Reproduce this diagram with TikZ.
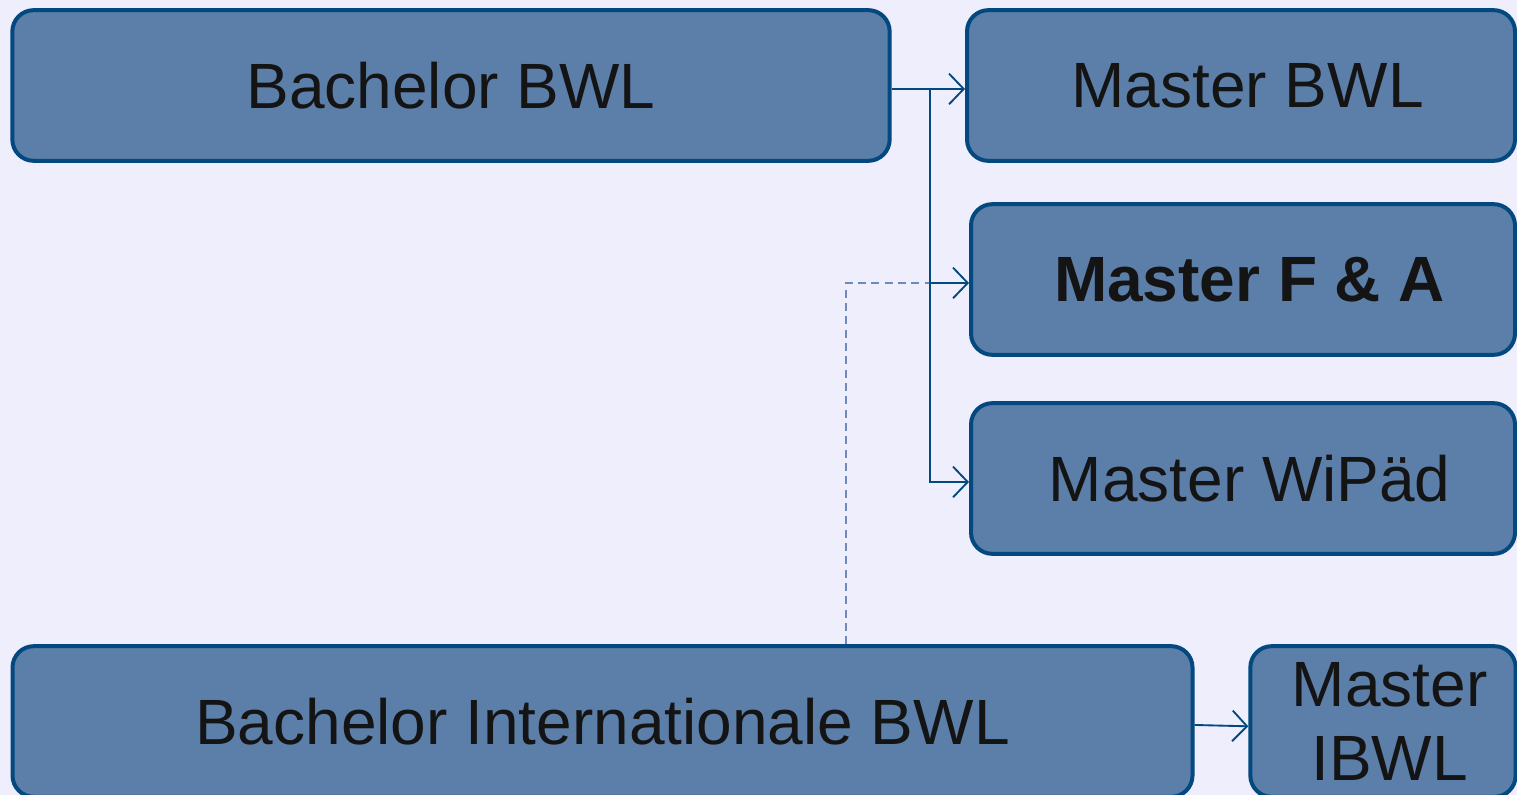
\documentclass[tikz,border=0pt]{standalone}
\usepackage{fontspec}
\setmainfont{Liberation Sans}
\usetikzlibrary{arrows.meta}
\definecolor{bgc}{RGB}{238,238,252}
\definecolor{boxfill}{RGB}{92,127,170}
\definecolor{boxline}{RGB}{4,72,128}
\definecolor{dashc}{RGB}{108,139,186}
\tikzset{
  box/.style={draw=boxline, fill=boxfill, line width=3pt, rounded corners=16pt,
    inner sep=0pt, minimum height=113pt, text=black!92,
    font=\fontsize{48}{55}\selectfont, align=center},
  conn/.style={draw=boxline, line width=1.4pt},
  arr/.style={conn, -{Straight Barb[length=11pt, width=23pt, line width=1.4pt]}},
  dsh/.style={draw=dashc, line width=1.4pt, dash pattern=on 6pt off 4pt}
}
\newcommand{\rsh}{\hspace*{10pt}}
\begin{document}
\begin{tikzpicture}[x=0.75pt, y=-0.75pt]
\fill[bgc] (0,0) rectangle (1517,795);
\useasboundingbox (0,0) rectangle (1517,795);
\node[box, minimum width=658pt] (bbwl) at (451,85.5) {Bachelor BWL};
\node[box, minimum width=411pt] (mbwl) at (1241,85.5) {\rsh Master BWL};
\node[box, minimum width=408pt] (mfa) at (1243,279.5) {\rsh\textbf{Master F \& A}};
\node[box, minimum width=408pt] (mwp) at (1243,478.5) {\rsh Master WiPäd};
\node[box, minimum width=885pt] (bibwl) at (602.5,721.5) {Bachelor Internationale BWL};
\node[box, minimum width=199pt] (mibwl) at (1383,721.5) {\rsh Master\\\rsh IBWL};
\coordinate (j) at (930,89);
\coordinate (d) at (846,0);
\draw[arr] ([yshift=-2.6pt]bbwl.east) -- ([yshift=-2.6pt]mbwl.west);
\draw[dsh] (bibwl.north -| d) |- ([yshift=-2.6pt]mfa.west -| j);
\draw[arr] ([yshift=-2.6pt]bbwl.east -| j) |- ([yshift=-2.6pt]mwp.west);
\draw[arr] ([yshift=-2.6pt]mfa.west -| j) -- ([yshift=-2.6pt]mfa.west);
\draw[arr] ([yshift=-2.6pt]bibwl.east) -- ([yshift=-3.6pt]mibwl.west);
\end{tikzpicture}
\end{document}
